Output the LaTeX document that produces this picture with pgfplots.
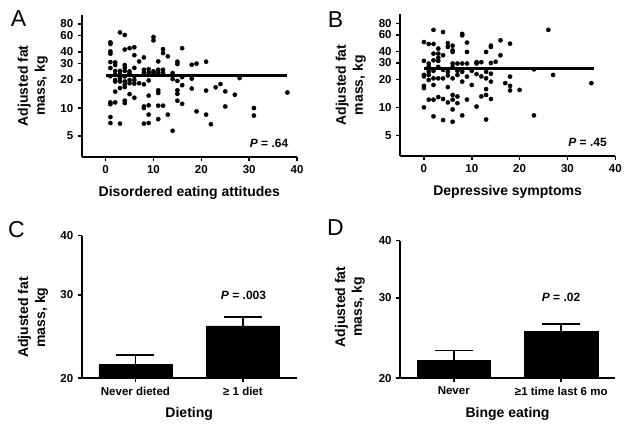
\documentclass[border=0pt]{standalone}
\usepackage{fontspec}
\setmainfont{Liberation Sans}
\usepackage{pgfplots}
\usepackage{pgfplotstable}
\pgfplotsset{compat=1.18}

\pgfplotstableread{
x y
1 50.8
1 48.8
1 40.6
1 38.4
1 31.2
1 26.9
1 22
1 11.5
1 11.0
1 8.0
1 6.9
2 31
2 29
2 25
2 23
2 20
2 19.3
2 15
2 11.5
3 65
3 25
3 23
3 21
3 19.3
3 16.4
3 6.8
4 61
4 42.5
4 29
4 27
4 25
4 21.9
4 19.3
4 17.8
4 16.8
4 12
4 11.3
5 44
5 24.8
5 23.5
5 20
5 18.5
5 14.1
6 45
6 37
6 27
6 22
6 20
6 18.3
6 12.9
7 31.7
7 18.5
8 35
8 25.8
8 24
8 18
8 10.4
8 10
8 6.8
9 26.2
9 24
9 19.8
9 13.6
9 10.7
9 8.5
9 6.9
10 58
10 53.4
10 24.8
10 23.8
11 31.7
11 25.8
11 24
11 15.5
11 14.5
11 10.6
11 7.6
12 43
12 39
12 25.8
12 24
12 10.6
13 36
13 8.5
14 23.8
14 20.5
14 5.7
15 31.5
15 29.7
15 19.6
15 15.5
15 14.2
15 12
16 44
16 21.5
16 17.6
16 11.1
18 29.2
18 20.7
18 16.2
19 30
19 9.2
21 31.5
21 15.4
21 8.5
22 6.7
23 16.7
24 18.1
25 15.1
25 10.4
27 13.9
28 21
31 10
31 8.3
38 14.7
}\dataA

\pgfplotstableread{
x y
0 50.3
0 31.6
0 22.3
0 21.5
0 17
0 16.1
0 10
1 48
1 29.6
1 27.5
1 24.1
1 22.3
1 19.7
1 12.1
2 68
2 48
2 37.8
2 32
2 24.7
2 20.5
2 17.4
2 12.1
2 8
3 42.8
3 37.8
3 34
3 31.6
3 27.2
3 20.5
3 12.9
4 64.5
4 36.3
4 25.3
4 20.5
4 12.3
4 7.3
5 49
5 44.6
5 24.1
5 22
5 16.5
5 11.3
6 46
6 41
6 39.4
6 29.6
6 27.2
6 20.5
6 13.6
6 12.1
6 9.5
6 7.0
7 29.6
7 24.7
7 22.3
7 13.1
7 11.1
8 61.6
8 59.4
8 29.6
8 24.1
8 18.9
8 8.2
9 49.6
9 39.4
9 29.6
9 21.4
9 12.1
10 24.7
10 17.4
11 30.6
11 29.6
11 22.8
11 10.2
12 30.6
12 21.5
12 13.1
13 39.4
13 24.1
13 20.5
13 15.7
13 13.6
13 7.4
14 46
14 44.6
14 30
14 23
14 18.9
14 12.3
15 30.9
16 52.5
16 36.3
17 18.2
18 48.3
18 21.4
18 17
18 15.2
20 15.4
23 25.6
23 8.2
26 68
27 22.3
35 18.2
}\dataB

\pgfplotsset{
  mypanel/.style={
    scale only axis,
    line width=2.2pt,
    axis x line=bottom, axis y line=left,
    axis line style={-, line width=2.2pt},
    tick style={line width=1.6pt, black},
    tick align=outside,
    major tick length=4pt,
    /pgf/number format/assume math mode=true,
    ticklabel style={font=\bfseries\fontsize{11.5}{13}\selectfont},
    xlabel style={at={(axis description cs:0.5,0)}, anchor=center, yshift=-36pt, font=\bfseries\fontsize{14}{17}\selectfont},
    ylabel style={rotate=0, anchor=center, align=center, font=\bfseries\fontsize{14}{17}\selectfont},
  },
}

\begin{document}
\begin{tikzpicture}[x=1pt,y=1pt]
\path[use as bounding box] (0,0) rectangle (628,429);

% Panel A
\begin{axis}[mypanel, ymode=log, width=215.3pt, height=141.7pt,
  at={(81.7pt,272.3pt)}, anchor=south west,
  xmin=-5, xmax=40, xtick={0,10,20,30,40},
  ymin=3, ymax=100,
  ytick={5,10,20,30,40,60,80}, yticklabels={5,10,20,30,40,60,80},
  xlabel={Disordered eating attitudes}, ylabel={Adjusted fat\\mass, kg},
  ylabel style={at={(axis description cs:-0.227,0.5)}}]
\addplot[only marks, mark=*, mark size=2.1pt, line width=0.4pt, black] table[x=x,y=y] {\dataA};
\addplot[black, line width=2.2pt] coordinates {(0,22.4) (38,22.4)};
\end{axis}

% Panel B
\begin{axis}[mypanel, ymode=log, width=215.3pt, height=141.7pt,
  at={(400pt,273pt)}, anchor=south west,
  xmin=-5, xmax=40, xtick={0,10,20,30,40},
  ymin=3, ymax=100,
  ytick={5,10,20,30,40,60,80}, yticklabels={5,10,20,30,40,60,80},
  xlabel={Depressive symptoms}, ylabel={Adjusted fat\\mass, kg},
  ylabel style={at={(axis description cs:-0.229,0.5)}}]
\addplot[only marks, mark=*, mark size=2.1pt, line width=0.4pt, black] table[x=x,y=y] {\dataB};
\addplot[black, line width=2.2pt] coordinates {(0,26.2) (35.5,26.2)};
\end{axis}

% Panel C
\begin{axis}[mypanel, ymode=log, width=215pt, height=142.6pt,
  at={(81.7pt,50.7pt)}, anchor=south west,
  xmin=-0.5, xmax=1.5, xtick={0,1},
  xticklabels={Never dieted, ≥ 1 diet},
  ymin=20, ymax=40, ytick={20,30,40}, yticklabels={20,30,40},
  xlabel={Dieting}, ylabel={Adjusted fat\\mass, kg},
  ylabel style={at={(axis description cs:-0.226,0.426)}}]
\addplot[ybar, bar width=73.4pt, fill=black, draw=black, line width=0.4pt,
  error bars/.cd, y dir=plus, y explicit,
  error bar style={line width=1.8pt, black},
  error mark options={rotate=90, mark size=19pt, line width=1.8pt, black}]
  coordinates {(0,21.4) +- (0,1.0) (1,25.8) +- (0,1.1)};
\end{axis}

% Panel D
\begin{axis}[mypanel, ymode=log, width=215pt, height=137.6pt,
  at={(400pt,50.7pt)}, anchor=south west,
  xmin=-0.5, xmax=1.5, xtick={0,1},
  xticklabels={Never, ≥1 time last 6 mo},
  ymin=20, ymax=40, ytick={20,30,40}, yticklabels={20,30,40},
  xlabel={Binge eating}, ylabel={Adjusted fat\\mass, kg},
  ylabel style={at={(axis description cs:-0.233,0.518)}}]
\addplot[ybar, bar width=73.4pt, fill=black, draw=black, line width=0.4pt,
  error bars/.cd, y dir=plus, y explicit,
  error bar style={line width=1.8pt, black},
  error mark options={rotate=90, mark size=19pt, line width=1.8pt, black}]
  coordinates {(0,21.9) +- (0,1.1) (1,25.3) +- (0,1.0)};
\end{axis}

% P values
\node[font=\bfseries\fontsize{12}{14}\selectfont] at (269,286) {\textit{P} = .64};
\node[font=\bfseries\fontsize{12}{14}\selectfont] at (587.5,286.3) {\textit{P} = .45};
\node[font=\bfseries\fontsize{12}{14}\selectfont] at (243.5,133.3) {\textit{P} = .003};
\node[font=\bfseries\fontsize{12}{14}\selectfont] at (561,131.3) {\textit{P} = .02};

% Panel letters
\node[font=\fontsize{23}{26}\selectfont] at (18.5,410.5) {A};
\node[font=\fontsize{23}{26}\selectfont] at (335.5,409.5) {B};
\node[font=\fontsize{23}{26}\selectfont] at (16.5,199) {C};
\node[font=\fontsize{23}{26}\selectfont] at (335.5,201.5) {D};
\end{tikzpicture}
\end{document}
